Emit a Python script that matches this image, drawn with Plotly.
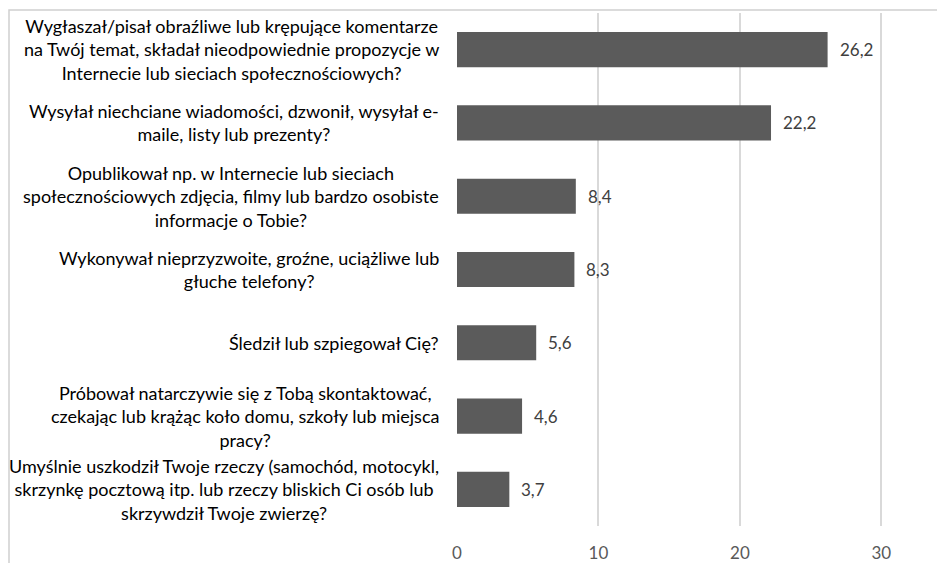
import plotly.graph_objects as go

categories = [
    "Wygłaszał/pisał obraźliwe lub krępujące komentarze<br>na Twój temat, składał nieodpowiednie propozycje w<br>Internecie lub sieciach społecznościowych?",
    "Wysyłał niechciane wiadomości, dzwonił, wysyłał e-<br>maile, listy lub prezenty?",
    "Opublikował np. w Internecie lub sieciach<br>społecznościowych zdjęcia, filmy lub bardzo osobiste<br>informacje o Tobie?",
    "Wykonywał nieprzyzwoite, groźne, uciążliwe lub<br>głuche telefony?",
    "Śledził lub szpiegował Cię?",
    "Próbował natarczywie się z Tobą skontaktować,<br>czekając lub krążąc koło domu, szkoły lub miejsca<br>pracy?",
    "Umyślnie uszkodził Twoje rzeczy (samochód, motocykl,<br>skrzynkę pocztową itp. lub rzeczy bliskich Ci osób lub<br>skrzywdził Twoje zwierzę?",
]
values = [26.2, 22.2, 8.4, 8.3, 5.6, 4.6, 3.7]
x_ticks = [0, 10, 20, 30]

ids = list(range(len(categories)))

# page body has an 8px margin, so the figure is a bit smaller than the window
OFF = 8
W, H = 945 - OFF, 563 - OFF
ml, mr, mt, mb = 457 - OFF, 0, 13 - OFF, 563 - 526
pw = W - ml - mr
ph = H - mt - mb

FONT = "Lato"

fig = go.Figure(go.Bar(
    x=values, y=ids, orientation="h",
    marker=dict(color="#5b5b5b", line=dict(width=0)),
    hoverinfo="skip",
))

annotations = []
for i, c in enumerate(categories):
    annotations.append(dict(
        x=(441 - 457) / pw, xref="paper", y=i, yref="y",
        text=c, showarrow=False, xanchor="right", yanchor="middle",
        align="center", font=dict(family=FONT, size=18, color="#000000"),
    ))
for i, v in enumerate(values):
    annotations.append(dict(
        x=v, xref="x", y=i, yref="y", xshift=10,
        text=f"{v:.1f}".replace(".", ","), showarrow=False, xanchor="left", yanchor="middle",
        font=dict(family=FONT, size=17, color="#404040"),
    ))

shapes = [dict(type="rect", xref="paper", yref="paper",
               x0=(1 - ml) / pw, x1=1.2, y0=-0.3, y1=(H - mb - 2) / ph,
               line=dict(color="#d0d0d0", width=1.5), fillcolor="rgba(0,0,0,0)", layer="below")]

fig.update_layout(
    width=W, height=H,
    margin=dict(l=ml, r=mr, t=mt, b=mb),
    paper_bgcolor="white", plot_bgcolor="white",
    bargap=0.52,
    showlegend=False,
    annotations=annotations,
    shapes=shapes,
    xaxis=dict(range=[0, 34.5], tickvals=x_ticks, showgrid=True, gridcolor="#d9d9d9", gridwidth=1.5,
               zeroline=False, showline=False, ticks="", ticklen=0, ticklabelstandoff=15,
               tickfont=dict(family=FONT, size=17, color="#595959")),
    yaxis=dict(range=[len(categories) - 0.5, -0.5], showticklabels=False, showgrid=False,
               zeroline=False, showline=False, ticks=""),
)

fig.write_html("out.html")
